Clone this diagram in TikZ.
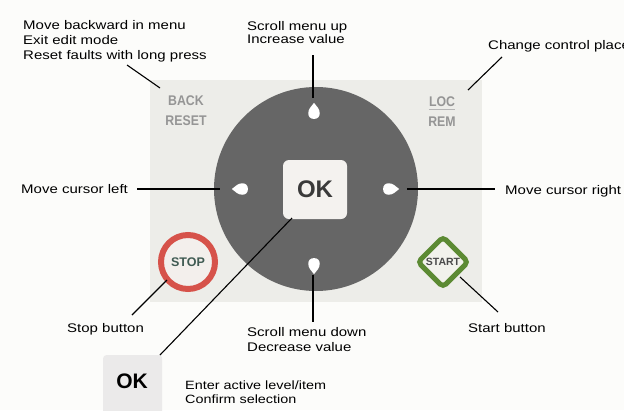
\documentclass[tikz,border=0pt]{standalone}
\usepackage{graphicx}
\usepackage{fontspec}
\setmainfont{Liberation Sans}
\usetikzlibrary{shapes.geometric}
\definecolor{bgc}{HTML}{FCFCFA}
\definecolor{panel}{HTML}{EDEDE9}
\definecolor{dial}{HTML}{666666}
\definecolor{okfill}{HTML}{F4F2EF}
\definecolor{okgray}{HTML}{3A3A3A}
\definecolor{btngray}{HTML}{959595}
\definecolor{stopred}{HTML}{D6524A}
\definecolor{stopfill}{HTML}{F3EFEC}
\definecolor{stoptext}{HTML}{3F5A52}
\definecolor{startgreen}{HTML}{5C8A33}
\definecolor{startfill}{HTML}{F2F2EC}
\definecolor{starttext}{HTML}{4A4A4A}
\definecolor{okbox}{HTML}{EBEAEA}
\newcommand{\stlab}[1]{\scalebox{1.2}[1]{\begin{tabular}[t]{@{}l@{}}#1\end{tabular}}}
\newcommand{\btnlab}[1]{\scalebox{0.88}[1]{#1}}
\begin{document}
\begin{tikzpicture}[x=1pt,y=-1pt,
  lab/.style={inner sep=0pt, anchor=base west, font=\fontsize{12.5}{15}\selectfont, text=black},
  conn/.style={line width=1.1pt, black},
  btn/.style={inner sep=0pt, font=\bfseries\fontsize{14}{14}\selectfont, text=btngray},
  teardrop/.pic={\fill[white] (0,-8) .. controls (2,-5) and (5,-3) .. (5,1) .. controls (5,4.5) and (2.8,6) .. (0,6) .. controls (-2.8,6) and (-5,4.5) .. (-5,1) .. controls (-5,-3) and (-2,-5) .. (0,-8) -- cycle;}
]
\useasboundingbox (0,0) rectangle (624,410);
\fill[bgc] (0,0) rectangle (624,410);
\fill[panel] (150,80) rectangle (482,302);

% dial
\node[circle, fill=dial, minimum size=204pt, inner sep=0pt] (dial) at (316,189) {};
\node[rounded corners=6pt, fill=okfill, minimum width=64pt, minimum height=59pt, inner sep=0pt,
      font=\bfseries\fontsize{24}{24}\selectfont, text=okgray] (ok) at (315,189.5) {OK};
\pic[scale=1.15] (dotup) at (314,112) {teardrop};
\pic[scale=1.15, rotate=90] (dotleft) at (241,189) {teardrop};
\pic[scale=1.15, rotate=-90] (dotright) at (390,189) {teardrop};
\pic[scale=1.15, rotate=180] (dotdown) at (314,265) {teardrop};

% side buttons
\node[btn] (back) at (186,101) {\btnlab{BACK}};
\node[btn] (reset) at (186,121) {\btnlab{RESET}};
\node[btn] (loc) at (442,101.5) {\btnlab{LOC}};
\node[btn] (rem) at (442,121.5) {\btnlab{REM}};
\draw[btngray!70, line width=0.6pt] ([yshift=-3pt]loc.south west) -- ([yshift=-3pt]loc.south east);

\node[circle, draw=stopred, line width=6pt, fill=stopfill, minimum size=54pt, inner sep=0pt,
      font=\bfseries\fontsize{12.5}{12.5}\selectfont, text=stoptext] (stop) at (188,262) {STOP};
\node[diamond, draw=startgreen, line width=5pt, fill=startfill, minimum size=52pt, inner sep=0pt,
      rounded corners=4pt, font=\bfseries\fontsize{10.5}{10.5}\selectfont, text=starttext] (start) at (443,262) {START};

% bottom OK key
\node[fill=okbox, rounded corners=3pt, minimum width=59pt, minimum height=62pt, inner sep=0pt, anchor=north west] (okkey) at (103,355) {};
\node[inner sep=0pt, font=\bfseries\fontsize{21}{21}\selectfont, text=black] (oklabel) at (132,381) {OK};

% labels
\node[lab] (tback) at (23,29.5) {\stlab{Move backward in menu\\Exit edit mode\\Reset faults with long press}};
\node[lab, font=\fontsize{12.5}{13.5}\selectfont] (tup) at (247,30) {\stlab{Scroll menu up\\Increase value}};
\node[lab] (tloc) at (488,49) {\stlab{Change control place}};
\node[lab] (tleft) at (21,193) {\stlab{Move cursor left}};
\node[lab] (tright) at (505,194) {\stlab{Move cursor right}};
\node[lab] (tstop) at (67,332) {\stlab{Stop button}};
\node[lab, font=\fontsize{12.5}{15}\selectfont] (tdown) at (247,336.5) {\stlab{Scroll menu down\\Decrease value}};
\node[lab] (tstart) at (468,332) {\stlab{Start button}};
\node[lab, font=\fontsize{12}{13.5}\selectfont] (tok) at (185,389.5) {\stlab{Enter active level/item\\Confirm selection}};

% connector end points
\coordinate (cbackA) at (127,65);   \coordinate (cbackB) at (160,88);
\coordinate (cupA) at (313,55);     \coordinate (cupB) at (313,98);
\coordinate (clocA) at (502,57);    \coordinate (clocB) at (468,90);
\coordinate (cleftA) at (137,189);  \coordinate (cleftB) at (220,189);
\coordinate (crightA) at (407,189); \coordinate (crightB) at (495,189);
\coordinate (cstopA) at (132,315);  \coordinate (cstopB) at (167,280);
\coordinate (cokA) at (160,355);    \coordinate (cokB) at (292,218);
\coordinate (cdownA) at (313,275);  \coordinate (cdownB) at (313,322);
\coordinate (cstartA) at (460,277); \coordinate (cstartB) at (498,312);

\draw[conn] (cbackA) -- (cbackB);
\draw[conn] (cupA) -- (cupB);
\draw[conn] (clocA) -- (clocB);
\draw[conn] (cleftA) -- (cleftB);
\draw[conn] (crightA) -- (crightB);
\draw[conn] (cstopA) -- (cstopB);
\draw[conn] (cokA) -- (cokB);
\draw[conn] (cdownA) -- (cdownB);
\draw[conn] (cstartA) -- (cstartB);
\end{tikzpicture}
\end{document}
